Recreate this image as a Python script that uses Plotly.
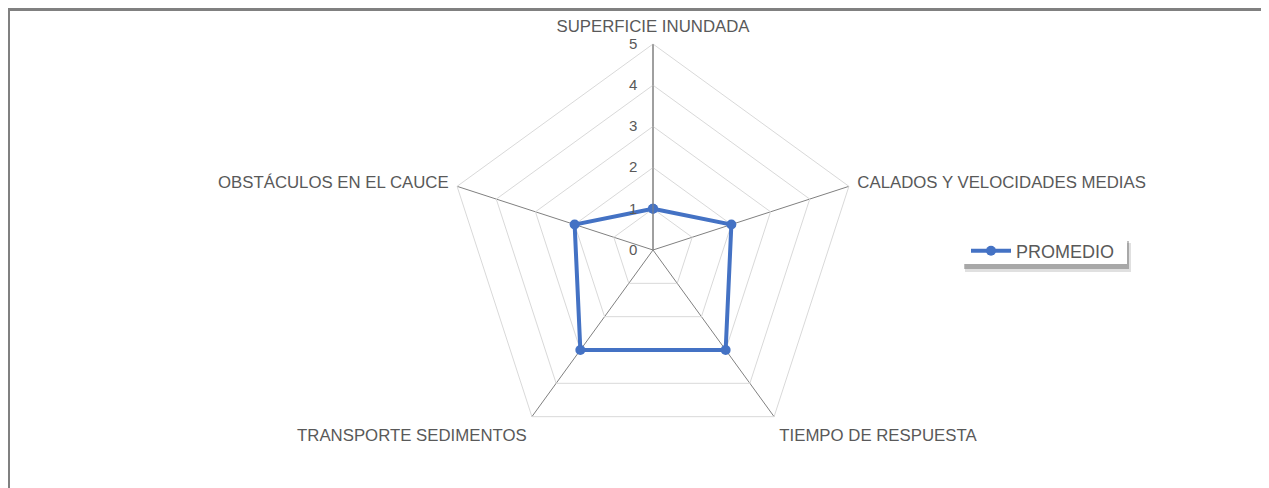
import plotly.graph_objects as go

categorias = ["SUPERFICIE INUNDADA", "CALADOS Y VELOCIDADES MEDIAS", "TIEMPO DE RESPUESTA",
              "TRANSPORTE SEDIMENTOS", "OBSTÁCULOS EN EL CAUCE"]
promedio = [1, 2, 3, 3, 2]
ticks_radiales = [0, 1, 2, 3, 4, 5]

W, H = 1269, 488
OFF = 8  # margen del body de la pagina


def px(x):
    return (x - OFF) / W


def py(y):
    return 1 - (y - OFF) / H


cx, cy, rad = 653, 250, 206

fig = go.Figure()
fig.add_trace(go.Scatterpolar(
    r=promedio + promedio[:1], theta=categorias + categorias[:1],
    mode="lines+markers", name="PROMEDIO",
    line=dict(color="#4472C4", width=4),
    marker=dict(color="#4472C4", size=10)))

fig.update_layout(
    width=W, height=H,
    margin=dict(l=0, r=0, t=0, b=0),
    paper_bgcolor="white",
    font=dict(family="Liberation Sans, Arial, sans-serif", color="#595959", size=16),
    polar=dict(
        domain=dict(x=[px(cx - rad), px(cx + rad)], y=[py(cy + rad), py(cy - rad)]),
        gridshape="linear",
        bgcolor="white",
        radialaxis=dict(range=[0, 5], tickvals=ticks_radiales, angle=90, side="counterclockwise",
                        showline=True, linecolor="#808080", linewidth=1,
                        gridcolor="#d9d9d9", gridwidth=1,
                        ticks="outside", ticklen=10, tickcolor="rgba(0,0,0,0)",
                        tickfont=dict(size=15, color="#595959"), tickangle=90),
        angularaxis=dict(direction="clockwise", rotation=90,
                         gridcolor="#808080", gridwidth=1,
                         linecolor="#d9d9d9", linewidth=1,
                         ticks="outside", ticklen=5, tickcolor="rgba(0,0,0,0)",
                         tickfont=dict(size=16.8, color="#595959")),
    ),
    showlegend=True,
    legend=dict(x=px(966), y=py(251), xanchor="left", yanchor="middle",
                bgcolor="rgba(0,0,0,0)", borderwidth=0, itemwidth=40,
                font=dict(size=18, color="#595959")),
    shapes=[
        dict(type="rect", xref="paper", yref="paper",
             x0=0.5 / W, x1=1.05, y0=-0.05, y1=1 - 1.5 / H,
             line=dict(color="#808080", width=3)),
        # sombra de la leyenda
        dict(type="rect", xref="paper", yref="paper", layer="above",
             x0=px(965), x1=px(1131), y0=py(272), y1=py(243),
             fillcolor="rgba(0,0,0,0.12)", line=dict(width=0)),
        dict(type="rect", xref="paper", yref="paper", layer="above",
             x0=px(964), x1=px(1129), y0=py(269), y1=py(241),
             fillcolor="rgba(0,0,0,0.25)", line=dict(width=0)),
        dict(type="rect", xref="paper", yref="paper", layer="above",
             x0=px(962), x1=px(1127), y0=py(264), y1=py(238),
             fillcolor="white", line=dict(width=0)),
    ],
)

fig.write_html("out.html")
